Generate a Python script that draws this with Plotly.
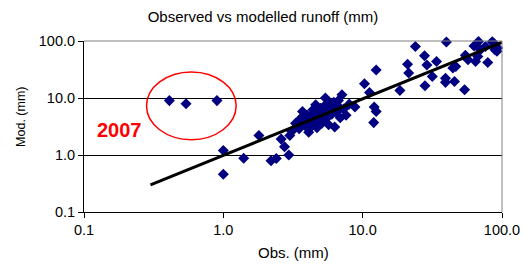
import plotly.graph_objects as go

# Observed (x) and modelled (y) runoff, mm
obs = [0.41, 0.54, 0.90,
       1.0, 1.0, 1.4, 1.8, 2.2, 2.4, 2.6, 2.75, 2.95, 3.0, 3.1,
       3.3, 3.5, 3.6, 3.7, 3.8, 3.9, 4.0, 4.1, 4.2, 4.3, 4.4, 4.5, 4.6, 4.7, 4.8, 4.9,
       5.0, 5.1, 5.2, 5.3, 5.4, 5.5, 5.6, 5.7, 5.8, 6.0, 6.1, 6.3, 6.5, 6.7, 6.9, 7.1,
       7.3, 7.6, 8.0,
       4.4, 4.8, 5.0, 5.3, 5.9, 6.2, 6.6, 5.2, 4.6, 3.9,
       3.4, 4.2, 4.5, 5.0, 5.5, 6.0, 3.6, 4.0,
       8.8, 10.3, 11.2, 12.1, 12.5, 12.0, 12.5, 18.5,
       21, 21.4, 23.9, 27.8, 28, 28.9, 31.6, 33.9, 39.9, 39.3, 39.3, 45.6, 44.4, 46.6,
       53.9, 54.6, 57, 63, 64.6, 67, 67.8, 70, 76, 79, 85, 87, 89, 92, 93]
mod = [9.0, 7.9, 9.0,
       1.2, 0.46, 0.88, 2.2, 0.79, 0.87, 1.9, 1.4, 1.0, 2.2, 2.6,
       3.6, 2.9, 4.4, 5.8, 3.9, 3.2, 5.0, 2.5, 4.6, 3.5, 6.2, 4.0, 7.6, 3.0, 5.4, 4.2,
       6.6, 3.6, 5.0, 7.2, 10.0, 4.4, 6.0, 3.4, 8.2, 5.2, 7.0, 3.1, 5.6, 9.0, 4.5, 11.4,
       6.4, 5.0, 7.8,
       5.3, 6.4, 4.8, 5.8, 6.8, 8.4, 7.4, 3.9, 4.8, 4.8,
       3.3, 3.0, 5.6, 5.8, 6.5, 6.2, 3.6, 4.0,
       6.95, 17.8, 12.5, 6.95, 5.8, 3.7, 31, 13.6,
       39, 27.5, 80, 55, 16.4, 38, 23.9, 43.8, 96, 22.2, 18.8, 19.5, 33.6, 35.8,
       14, 56, 47, 82, 43.8, 53.5, 98, 70, 80, 42, 97, 92, 70, 66, 75]

# Power trend line end points
trend_x = [0.3, 100]
trend_y = [0.3, 95]

tick_vals = [0.1, 1, 10, 100]
tick_text = ["0.1", "1.0", "10.0", "100.0"]

FONT = "Arial, Liberation Sans, sans-serif"

fig = go.Figure()
fig.add_trace(go.Scatter(
    x=obs, y=mod, mode="markers",
    marker=dict(symbol="diamond", color="#000080", size=8.5, line=dict(width=0)),
    cliponaxis=False, showlegend=False))
fig.add_trace(go.Scatter(
    x=trend_x, y=trend_y, mode="lines",
    line=dict(color="black", width=3), cliponaxis=False, showlegend=False))

axis_common = dict(
    type="log", tickvals=tick_vals, ticktext=tick_text,
    ticks="outside", ticklen=5, tickcolor="black", tickwidth=1,
    showline=True, linecolor="black", linewidth=1,
    tickfont=dict(family=FONT, size=14.5, color="black"),
    zeroline=False,
)
fig.update_xaxes(range=[-1, 2], showgrid=False, **axis_common)
fig.update_yaxes(range=[-1, 2], showgrid=True, gridcolor="black", gridwidth=1, **axis_common)

# page body adds an 8px offset; figure is sized to fit the 532x270 window
fig.update_layout(
    width=524, height=262,
    margin=dict(l=76, r=22, t=33, b=58),
    paper_bgcolor="white", plot_bgcolor="white",
    title=dict(text="Observed vs modelled runoff (mm)", xref="container", x=255 / 524,
               y=1 - 9 / 262, yanchor="middle", xanchor="center",
               font=dict(family=FONT, size=15, color="black")),
    shapes=[
        dict(type="line", xref="paper", yref="paper", x0=0, x1=1, y0=1, y1=1,
             line=dict(color="#808080", width=1), layer="above"),
        dict(type="line", xref="paper", yref="paper", x0=1, x1=1, y0=0, y1=1,
             line=dict(color="#808080", width=1), layer="above"),
        dict(type="circle", xref="paper", yref="paper", x0=0.1495, x1=0.364,
             y0=0.423, y1=0.819, line=dict(color="#FF0000", width=1.5)),
    ],
    annotations=[
        dict(text="2007", xref="paper", yref="paper", x=(120 - 84) / 426, y=(212.3 - 130) / 171,
             showarrow=False, xanchor="center", yanchor="middle",
             font=dict(family=FONT, size=20, color="#FF0000", weight="bold")),
        dict(text="Obs. (mm)", xref="paper", yref="paper", x=0.5, y=(212.3 - 253) / 171,
             showarrow=False, xanchor="center", yanchor="middle",
             font=dict(family=FONT, size=15, color="black")),
        dict(text="Mod. (mm)", xref="paper", yref="paper", x=(19.5 - 84) / 426, y=(212.3 - 117.5) / 171,
             showarrow=False, textangle=-90, xanchor="center", yanchor="middle",
             font=dict(family=FONT, size=12.5, color="black")),
    ],
)

fig.write_html("out.html")
